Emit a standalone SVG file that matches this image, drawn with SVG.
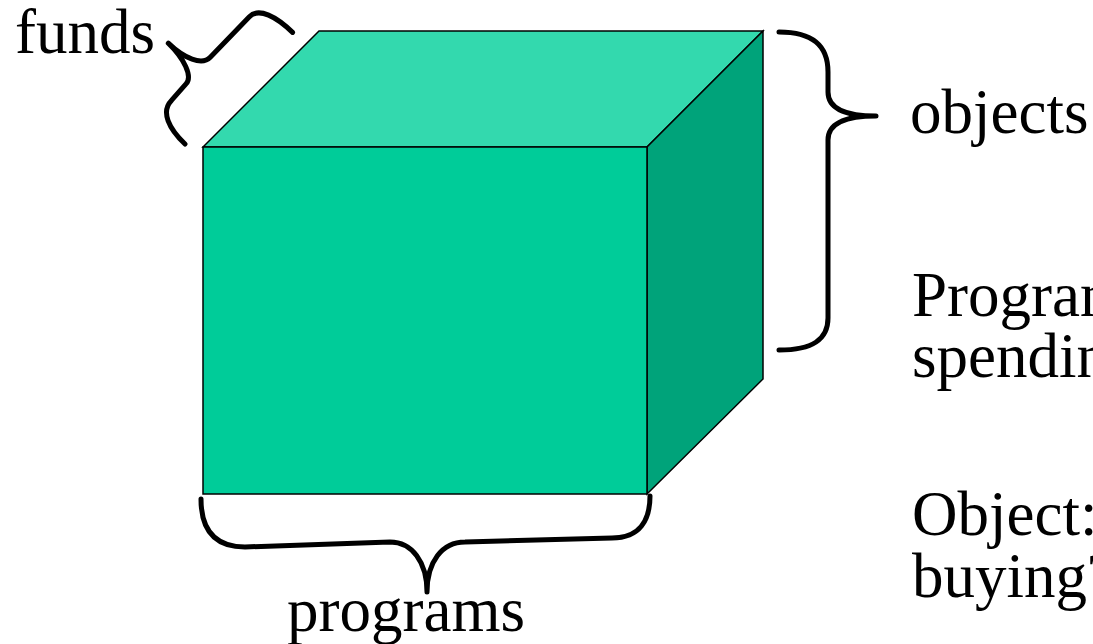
<svg xmlns="http://www.w3.org/2000/svg" width="1093" height="644" viewBox="0 0 1093 644">
<style>
.face{stroke:#000;stroke-width:1.5;stroke-linejoin:miter}
.brace{fill:none;stroke:#000;stroke-width:5;stroke-linecap:round;stroke-linejoin:round}
.lbl{font-family:"Liberation Serif","Times New Roman",serif;font-size:63px;fill:#000}
</style>
<rect width="1093" height="644" fill="#fff"/>
<g id="cube">
<polygon class="face" points="203,147 319,31 763,31 647,147" fill="#33D9AE"/>
<polygon class="face" points="647,147 763,31 763,379 647,494" fill="#00A37A"/>
<rect class="face" x="203" y="147" width="444" height="347" fill="#00CC99"/>
</g>
<g id="connectors">
<path class="brace" transform="matrix(0.694 -0.72 -0.72 -0.694 185 144)" d="M 0 0 C 0 22 6 40 22 40 L 44 41 C 54 41 61 60 61 82 C 61 60 68 42 80 42 L 136 42 C 150 42 155 22 155 0"/>
<path class="brace" d="M 779 32 C 812 32 828 45 828 72 L 828 92 C 828 108 845 116 876 116 C 845 116 828 124 828 140 L 828 318 C 828 340 812 350 779 350"/>
<path class="brace" d="M 201 499 C 201 530 215 547 245 547 L 390 542 C 412 542 427 562 427 592 C 427 562 442 542 465 542 L 612 538 C 640 538 650 520 650 496"/>
</g>
<g id="funds"><text class="lbl" x="15" y="53">funds</text></g>
<g id="objects"><text class="lbl" x="910" y="133">objects</text></g>
<g id="programs"><text class="lbl" x="287" y="631">programs</text></g>
<g id="note-program"><text class="lbl" x="912" y="316">Program</text><text class="lbl" x="912" y="377">spending</text></g>
<g id="note-object"><text class="lbl" x="912" y="535">Object:</text><text class="lbl" x="912" y="597">buying?</text></g>
</svg>
